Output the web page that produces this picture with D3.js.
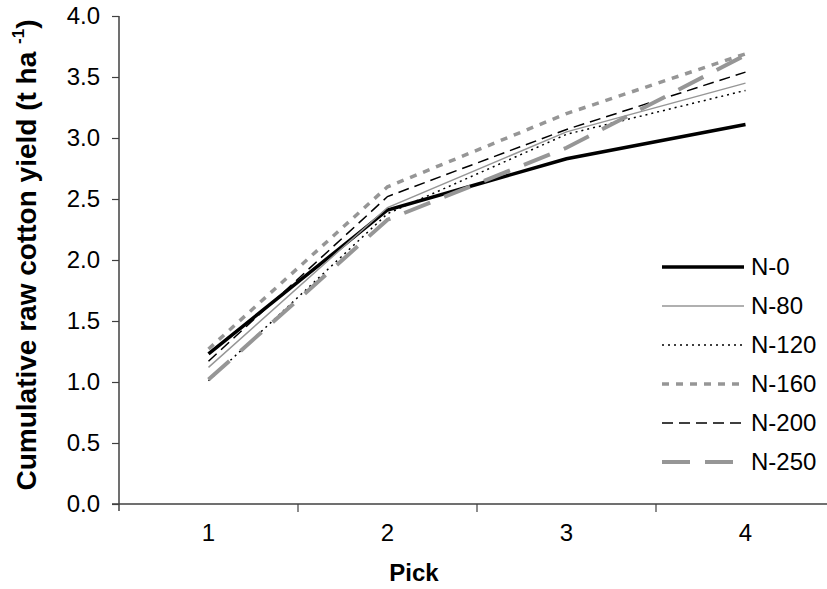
<!DOCTYPE html>
<html>
<head>
<meta charset="utf-8">
<script src="https://cdn.jsdelivr.net/npm/d3@7"></script>
<style>
  html, body { margin: 0; padding: 0; background: #fff; }
  svg { display: block; font-family: "Liberation Sans", Arial, sans-serif; }
</style>
</head>
<body>
<svg id="chart" width="827" height="589"></svg>
<script>
// Picks (categories) and cumulative raw cotton yield per nitrogen rate (t ha-1)
const picks = [1, 2, 3, 4];
const yTicks = [0, 0.5, 1.0, 1.5, 2.0, 2.5, 3.0, 3.5, 4.0];
const seriesNames = ["N-0", "N-80", "N-120", "N-160", "N-200", "N-250"];
const n0   = [1.23, 2.41, 2.83, 3.11];
const n80  = [1.12, 2.43, 3.05, 3.45];
const n120 = [1.01, 2.38, 3.03, 3.39];
const n160 = [1.27, 2.60, 3.20, 3.69];
const n200 = [1.17, 2.52, 3.07, 3.54];
const n250 = [1.02, 2.33, 2.92, 3.68];
const seriesValues = [n0, n80, n120, n160, n200, n250];

// Stroke styles per series
const styles = [
  { color: "#000000", width: 3.5, dash: null },
  { color: "#969696", width: 1.5, dash: null },
  { color: "#000000", width: 1.5, dash: "2,4" },
  { color: "#969696", width: 3.5, dash: "7,7" },
  { color: "#000000", width: 1.5, dash: "11,6" },
  { color: "#969696", width: 4,   dash: "28,15" }
];

const svg = d3.select("#chart");
const plotLeft = 119, plotTop = 16, plotBottom = 504;
const bandW = 179;

const x = d3.scaleBand().domain(picks).range([plotLeft, plotLeft + bandW * picks.length]).padding(0);
const y = d3.scaleLinear().domain([0, 4]).range([plotBottom, plotTop]);
const axisColor = "#404040";

// Y axis
const yAxis = svg.append("g").attr("transform", `translate(${plotLeft},0)`)
  .call(d3.axisLeft(y).tickValues(yTicks).tickFormat(d3.format(".1f")).tickSize(7).tickPadding(12));
yAxis.select(".domain").remove();
yAxis.selectAll(".tick line").attr("stroke", axisColor).attr("stroke-width", 1.2);
yAxis.selectAll(".tick text").attr("font-size", 24).attr("fill", "#000")
  .attr("font-family", "Liberation Sans, Arial, sans-serif");
svg.append("line").attr("x1", plotLeft).attr("x2", plotLeft).attr("y1", plotTop).attr("y2", plotBottom + 7)
  .attr("stroke", axisColor).attr("stroke-width", 1.5);

// X axis: labels centred in each band, ticks at band boundaries
svg.append("line").attr("x1", plotLeft - 7).attr("x2", 827).attr("y1", plotBottom).attr("y2", plotBottom)
  .attr("stroke", axisColor).attr("stroke-width", 1.5);
svg.append("g").selectAll("line").data(picks.slice(1)).join("line")
  .attr("x1", d => x(d)).attr("x2", d => x(d))
  .attr("y1", plotBottom).attr("y2", plotBottom + 8)
  .attr("stroke", axisColor).attr("stroke-width", 1.2);
svg.append("g").selectAll("text").data(picks).join("text")
  .attr("x", d => x(d) + x.bandwidth() / 2).attr("y", plotBottom + 37)
  .attr("text-anchor", "middle").attr("font-size", 24).text(d => d);

// Axis titles
svg.append("text").attr("x", 414).attr("y", 581)
  .attr("text-anchor", "middle").attr("font-size", 24).attr("font-weight", "bold").text("Pick");
const yt = svg.append("text")
  .attr("transform", `translate(36,255) rotate(-90)`)
  .attr("text-anchor", "middle").attr("font-size", 28).attr("font-weight", "bold");
yt.append("tspan").text("Cumulative raw cotton yield (t ha   ");
yt.append("tspan").attr("font-size", 17).attr("dy", -12).text("-1");
yt.append("tspan").attr("dy", 12).text(")");

// Series lines
const line = d3.line().x((d, i) => x(picks[i]) + x.bandwidth() / 2).y(d => y(d));
svg.append("g").selectAll("path").data(seriesValues).join("path")
  .attr("d", d => line(d))
  .attr("fill", "none")
  .attr("stroke", (d, i) => styles[i].color)
  .attr("stroke-width", (d, i) => styles[i].width)
  .attr("stroke-dasharray", (d, i) => styles[i].dash);

// Legend
const lg = svg.append("g");
const lgY = d3.scalePoint().domain(seriesNames).range([267, 462]);
lg.selectAll("line").data(seriesNames).join("line")
  .attr("x1", 662).attr("x2", 744)
  .attr("y1", d => lgY(d)).attr("y2", d => lgY(d))
  .attr("stroke", (d, i) => styles[i].color)
  .attr("stroke-width", (d, i) => styles[i].width)
  .attr("stroke-dasharray", (d, i) => styles[i].dash);
lg.selectAll("text").data(seriesNames).join("text")
  .attr("x", 751).attr("y", d => lgY(d) + 8)
  .attr("font-size", 24).text(d => d);
</script>
</body>
</html>
